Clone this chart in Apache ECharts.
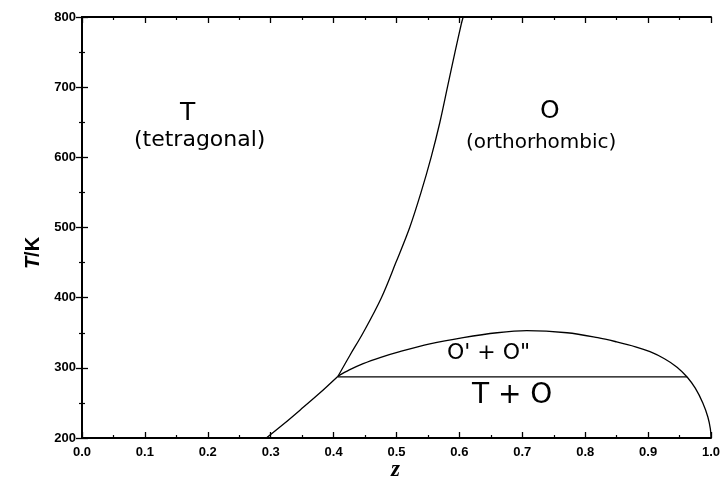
<!DOCTYPE html>
<html>
<head>
<meta charset="utf-8">
<script src="https://cdn.jsdelivr.net/npm/echarts@6/dist/echarts.min.js"></script>
<style>
html,body{margin:0;padding:0;background:#fff;}
#main{width:724px;height:495px;}
</style>
</head>
<body>
<div id="main"></div>
<script>
// T/O phase boundary
var boundZ = [0.407, 0.426, 0.447, 0.476, 0.499, 0.521, 0.539, 0.555, 0.569, 0.581, 0.593, 0.603, 0.606];
var boundT = [288, 318, 350, 400, 450, 500, 550, 600, 650, 700, 750, 790, 800];
// lower left branch
var lowZ = [0.293, 0.322, 0.347, 0.378, 0.407];
var lowT = [200, 221, 240, 264, 288];
// O' + O'' dome
var domeZ = [0.407, 0.425, 0.447, 0.475, 0.501, 0.553, 0.606, 0.660, 0.707, 0.771, 0.820, 0.850, 0.880, 0.903, 0.926, 0.946, 0.962, 0.975, 0.987, 0.995, 0.999, 1.0];
var domeT = [288, 297, 306, 315, 322, 334, 343, 350, 353, 350, 343, 337, 330, 323, 313, 301, 287, 271, 250, 230, 213, 200];
// tie line
var tieZ = [0.407, 0.962];
var tieT = [287, 287];

var xTicks = ['0.0','0.1','0.2','0.3','0.4','0.5','0.6','0.7','0.8','0.9','1.0'];
var yTicks = [200, 300, 400, 500, 600, 700, 800];

function pairs(xs, ys) {
	var out = [];
	for (var i = 0; i < xs.length; i++) {
		out.push([xs[i], ys[i]]);
	}
	return out;
}

var myChart = echarts.init(document.getElementById('main'));

var lineStyle = {color: '#000', width: 1.3};
var boxLine = {show: true, lineStyle: {color: '#000', width: 2}};
var labelFont = {color: '#000', fontSize: 13, fontWeight: 'bold', fontFamily: 'Liberation Sans'};
var tick = {inside: true, length: 6, lineStyle: {color: '#000', width: 1.3}};
var minor = {show: true, splitNumber: 2, length: 3, lineStyle: {color: '#000', width: 1.2}};

myChart.setOption({
	backgroundColor: '#fff',
	animation: false,
	grid: {left: 82, right: 13, top: 17, bottom: 57},
	xAxis: [
		{
			type: 'value', min: 0, max: 1, interval: 0.1,
			axisLine: boxLine, axisTick: tick, minorTick: minor,
			splitLine: {show: false},
			axisLabel: Object.assign({margin: 8, formatter: function (v) {
				return xTicks[Math.round(v * 10)];
			}}, labelFont)
		},
		{
			type: 'value', position: 'top', min: 0, max: 1, interval: 0.1,
			axisLine: boxLine, axisTick: tick, minorTick: minor,
			splitLine: {show: false},
			axisLabel: {show: false}
		}
	],
	yAxis: [
		{
			type: 'value', min: yTicks[0], max: yTicks[yTicks.length - 1], interval: 100,
			axisLine: boxLine, axisTick: tick, minorTick: minor,
			splitLine: {show: false},
			axisLabel: Object.assign({margin: 6}, labelFont)
		},
		{
			type: 'value', position: 'right', min: yTicks[0], max: yTicks[yTicks.length - 1], interval: 100,
			axisLine: boxLine, axisTick: tick, minorTick: minor,
			splitLine: {show: false},
			axisLabel: {show: false}
		}
	],
	series: [
		{type: 'line', data: pairs(boundZ, boundT), smooth: 0.35, showSymbol: false, lineStyle: lineStyle},
		{type: 'line', data: pairs(lowZ, lowT), smooth: 0.3, showSymbol: false, lineStyle: lineStyle},
		{type: 'line', data: pairs(domeZ, domeT), smooth: 0.35, showSymbol: false, lineStyle: lineStyle},
		{type: 'line', data: pairs(tieZ, tieT), showSymbol: false, lineStyle: lineStyle}
	],
	graphic: [
		{type: 'text', left: 180, top: 101, style: {text: 'T', fontSize: 25, fontFamily: 'DejaVu Sans', fill: '#000'}},
		{type: 'text', left: 134, top: 129, style: {text: '(tetragonal)', fontSize: 22, fontFamily: 'DejaVu Sans', fill: '#000'}},
		{type: 'text', left: 540, top: 99, style: {text: 'O', fontSize: 25, fontFamily: 'DejaVu Sans', fill: '#000'}},
		{type: 'text', left: 466, top: 133, style: {text: '(orthorhombic)', fontSize: 20, fontFamily: 'DejaVu Sans', fill: '#000'}},
		{type: 'text', left: 447, top: 342, style: {text: 'O\' + O"', fontSize: 22, fontFamily: 'DejaVu Sans', fill: '#000'}},
		{type: 'text', left: 472, top: 382, style: {text: 'T + O', fontSize: 28, fontFamily: 'DejaVu Sans', fill: '#000'}},
		{type: 'text', left: 391, top: 459, style: {text: 'z', fontSize: 23, fontStyle: 'italic', fontWeight: 'bold', fontFamily: 'Liberation Serif', fill: '#000'}},
		{type: 'text', x: 33, y: 253, rotation: Math.PI / 2, style: {
			text: '{i|T}/K', align: 'center', verticalAlign: 'middle', fontSize: 20, fontWeight: 'bold', fontFamily: 'Liberation Sans', fill: '#000',
			rich: {i: {fontStyle: 'italic', fontSize: 20, fontWeight: 'bold', fontFamily: 'Liberation Sans'}}
		}}
	]
});
</script>
</body>
</html>
